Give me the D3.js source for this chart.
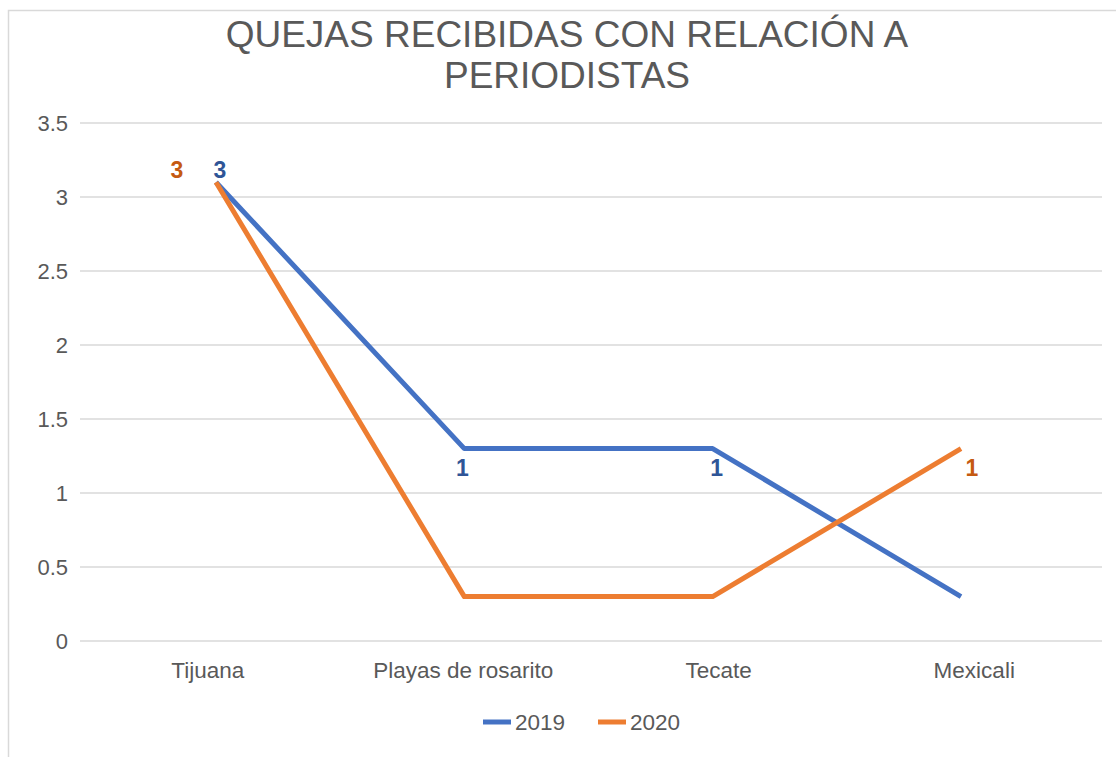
<!DOCTYPE html>
<html>
<head>
<meta charset="utf-8">
<script src="https://cdn.jsdelivr.net/npm/d3@7"></script>
<style>
  body { margin: 0; background: #fff; }
  text { font-family: "Liberation Sans", Arial, sans-serif; }
</style>
</head>
<body>
<div id="visArea"></div>
<script>

var categories = ['Tijuana', 'Playas de rosarito', 'Tecate', 'Mexicali'];
var years = ['2019', '2020'];
var values2019 = [3.1, 1.3, 1.3, 0.3];
var values2020 = [3.1, 0.3, 0.3, 1.3];
var labels2019 = ['3', '1', '1', ''];
var labels2020 = ['3', '', '', '1'];
var yTicks = [0, 0.5, 1, 1.5, 2, 2.5, 3, 3.5];
var titleLines = ['QUEJAS RECIBIDAS CON RELACIÓN A', 'PERIODISTAS'];

var colors = ['#4472C4', '#ED7D31'];
var labelColors = ['#2F5597', '#C55A11'];
// where each data label sits relative to its point: [dx, dy]
var labelOffsets2019 = [[4, -4], [-2, 27], [4, 27], [0, 0]];
var labelOffsets2020 = [[-39, -4], [0, 0], [0, 0], [11, 27]];

var W = 1116, H = 757;
var plotLeft = 80, plotRight = 1102, plotTop = 123, plotBottom = 641;

var svg = d3.select('#visArea').append('svg')
  .attr('width', W).attr('height', H);

// frame
svg.append('rect')
  .attr('x', 8.5).attr('y', 10.5)
  .attr('width', W + 20).attr('height', H + 20)
  .attr('fill', '#fff')
  .attr('stroke', '#d9d9d9')
  .attr('stroke-width', 1.5);

var x = d3.scaleBand().domain(categories).range([plotLeft, plotRight]).padding(0);
// the lines in the source sit a bit off the label centres
var xp = d3.scalePoint().domain(categories).range([216, 961]);
var y = d3.scaleLinear().domain([0, 3.5]).range([plotBottom, plotTop]);

// gridlines
svg.append('g').selectAll('line')
  .data(yTicks).enter().append('line')
  .attr('x1', plotLeft).attr('x2', plotRight)
  .attr('y1', function(d){ return y(d); })
  .attr('y2', function(d){ return y(d); })
  .style('stroke', '#d9d9d9')
  .style('stroke-width', 1.5);

// y labels
svg.append('g').selectAll('text')
  .data(yTicks).enter().append('text')
  .attr('x', 68)
  .attr('y', function(d){ return y(d) + 7.5; })
  .text(function(d){ return d; })
  .style('text-anchor', 'end')
  .style('font-size', '22px')
  .style('fill', '#595959');

// x labels
svg.append('g').selectAll('text')
  .data(categories).enter().append('text')
  .attr('x', function(d){ return x(d) + x.bandwidth()/2; })
  .attr('y', 678)
  .text(function(d){ return d; })
  .style('text-anchor', 'middle')
  .style('font-size', '22.5px')
  .style('fill', '#595959');

// title
svg.append('g').selectAll('text')
  .data(titleLines).enter().append('text')
  .attr('x', 567)
  .attr('y', function(d,i){ return 47 + i*41; })
  .text(function(d){ return d; })
  .style('text-anchor', 'middle')
  .style('font-size', '37px')
  .style('fill', '#595959');

var series = [
  { name: years[0], values: values2019, labels: labels2019, offsets: labelOffsets2019 },
  { name: years[1], values: values2020, labels: labels2020, offsets: labelOffsets2020 }
];

var line = d3.line()
  .x(function(d,i){ return xp(categories[i]); })
  .y(function(d){ return y(d); });

series.forEach(function(s, si){
  svg.append('path')
    .datum(s.values)
    .attr('d', line)
    .attr('fill', 'none')
    .attr('stroke', colors[si])
    .attr('stroke-width', 5)
    .attr('stroke-linejoin', 'round');
});

series.forEach(function(s, si){
  svg.append('g').selectAll('text')
    .data(s.values).enter().append('text')
    .attr('x', function(d,i){ return xp(categories[i]) + s.offsets[i][0]; })
    .attr('y', function(d,i){ return y(d) + s.offsets[i][1]; })
    .text(function(d,i){ return s.labels[i]; })
    .style('text-anchor', 'middle')
    .style('font-size', '23px')
    .style('font-weight', 'bold')
    .style('fill', labelColors[si]);
});

// legend
var legend = svg.append('g').attr('class', 'legend');
var legX = [483, 598];
years.forEach(function(yr, i){
  legend.append('line')
    .attr('x1', legX[i]).attr('x2', legX[i] + 28)
    .attr('y1', 722).attr('y2', 722)
    .style('stroke', colors[i])
    .style('stroke-width', 5);
  legend.append('text')
    .attr('x', legX[i] + 32)
    .attr('y', 730)
    .text(yr)
    .style('font-size', '22.5px')
    .style('fill', '#595959');
});

</script>
</body>
</html>
